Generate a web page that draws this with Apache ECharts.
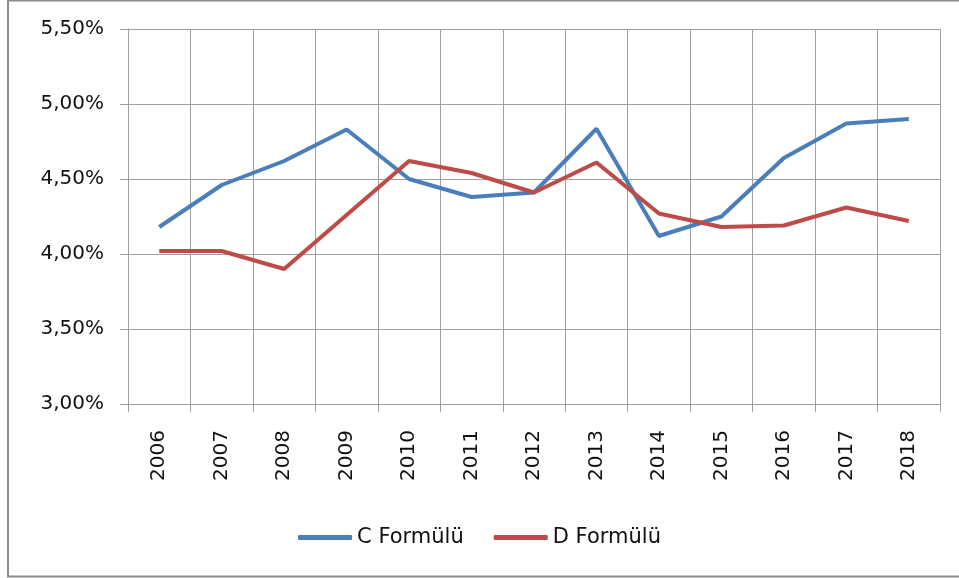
<!DOCTYPE html>
<html>
<head>
<meta charset="utf-8">
<script src="https://cdn.jsdelivr.net/npm/echarts@6/dist/echarts.min.js"></script>
<style>
html,body{margin:0;padding:0;background:#fff;}
#chart{width:959px;height:578px;}
</style>
</head>
<body>
<div id="chart"></div>
<script>
const years = ['2006','2007','2008','2009','2010','2011','2012','2013','2014','2015','2016','2017','2018'];
const seriesCName = 'C Formülü';
const seriesDName = 'D Formülü';
const valuesC = [4.18, 4.46, 4.62, 4.83, 4.50, 4.38, 4.41, 4.835, 4.12, 4.25, 4.64, 4.87, 4.90];
const valuesD = [4.02, 4.02, 3.90, 4.26, 4.62, 4.54, 4.41, 4.61, 4.27, 4.18, 4.19, 4.31, 4.22];
const yMin = 3.0, yMax = 5.5, yStep = 0.5;

const chart = echarts.init(document.getElementById('chart'), null, {renderer:'canvas'});
const font = 'DejaVu Sans';
const gridColor = '#a0a0a0';
chart.setOption({
  animation: false,
  backgroundColor: '#fff',
  textStyle: {fontFamily: font},
  graphic: [{
    type: 'rect',
    shape: {x: 8, y: 0.5, width: 1000, height: 576},
    style: {fill: 'none', stroke: '#8c8c8c', lineWidth: 2},
    silent: true
  }],
  grid: {left: 128, right: 19, top: 29, bottom: 174},
  xAxis: {
    type: 'category',
    data: years,
    boundaryGap: true,
    axisLine: {show: true, lineStyle: {color: gridColor, width: 1}},
    axisTick: {show: true, length: 8, alignWithLabel: false, lineStyle: {color: gridColor}},
    splitLine: {show: true, lineStyle: {color: gridColor, width: 1}},
    axisLabel: {rotate: 90, margin: 26, fontSize: 20, color: '#111', fontFamily: font}
  },
  yAxis: {
    type: 'value',
    min: yMin, max: yMax, interval: yStep,
    axisLine: {show: true, lineStyle: {color: gridColor, width: 1}},
    axisTick: {show: true, length: 8, lineStyle: {color: gridColor}},
    splitLine: {show: true, lineStyle: {color: gridColor, width: 1}},
    axisLabel: {
      margin: 24, fontSize: 20, color: '#111', fontFamily: font,
      padding: [4, 0, 0, 0],
      formatter: v => v.toFixed(2).replace('.', ',') + '%'
    }
  },
  legend: {
    bottom: 25,
    left: 'center',
    icon: 'roundRect',
    itemWidth: 54,
    itemHeight: 5,
    itemGap: 30,
    textStyle: {fontSize: 21, color: '#111', fontFamily: font},
    data: [seriesCName, seriesDName]
  },
  series: [
    {name: seriesCName, type: 'line', data: valuesC, symbol: 'none',
     lineStyle: {color: '#4a7ebb', width: 4}, itemStyle: {color: '#4a7ebb'}},
    {name: seriesDName, type: 'line', data: valuesD, symbol: 'none',
     lineStyle: {color: '#be4b48', width: 4}, itemStyle: {color: '#be4b48'}}
  ]
});
</script>
</body>
</html>
